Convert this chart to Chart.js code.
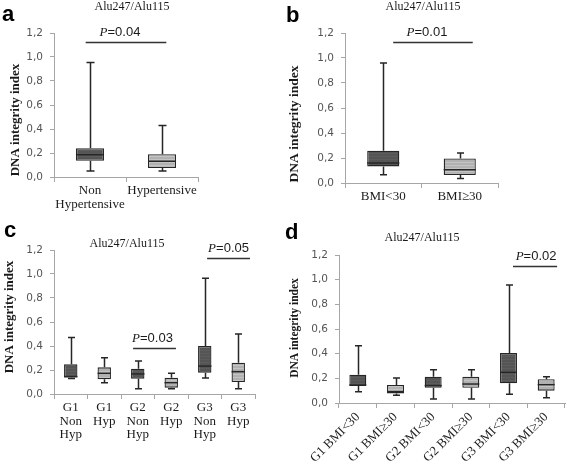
<!DOCTYPE html>
<html>
<head>
<meta charset="utf-8">
<script src="https://cdn.jsdelivr.net/npm/chart.js@4.4.0/dist/chart.umd.min.js"></script>
<style>
    body { margin: 0; background: #fff; width: 567px; height: 465px; position: relative; overflow: hidden; }
    .panel { position: absolute; }
    .tag { position: absolute; font: bold 22px "Liberation Sans", Arial, sans-serif; line-height: 22px; color: #000; }
</style>
</head>
<body>
<div class="panel" style="left:0;top:0;width:280px;height:215px"><canvas id="chartA"></canvas></div>
<div class="panel" style="left:280px;top:0;width:287px;height:215px"><canvas id="chartB"></canvas></div>
<div class="panel" style="left:0;top:215px;width:280px;height:250px"><canvas id="chartC"></canvas></div>
<div class="panel" style="left:280px;top:215px;width:287px;height:250px"><canvas id="chartD"></canvas></div>
<div class="tag" style="left:2px;top:3px">a</div>
<div class="tag" style="left:286px;top:4px">b</div>
<div class="tag" style="left:4px;top:219px">c</div>
<div class="tag" style="left:285px;top:221px">d</div>
<script>
// a: Non hypertensive vs hypertensive
const aLabels = [["Non", "Hypertensive"], "Hypertensive"];
const aMin = [0.05, 0.05];
const aQ1 = [0.136, 0.075];
const aMed = [0.186, 0.131];
const aQ3 = [0.239, 0.189];
const aMax = [0.955, 0.43];

// b: BMI
const bLabels = ["BMI<30", "BMI≥30"];
const bMin = [0.066, 0.037];
const bQ1 = [0.133, 0.064];
const bMed = [0.16, 0.106];
const bQ3 = [0.258, 0.197];
const bMax = [0.96, 0.24];

// c: grade x hypertension
const cLabels = [["G1", "Non", "Hyp"], ["G1", "Hyp"], ["G2", "Non", "Hyp"], ["G2", "Hyp"], ["G3", "Non", "Hyp"], ["G3", "Hyp"]];
const cMin = [0.13, 0.094, 0.044, 0.044, 0.133, 0.044];
const cQ1 = [0.137, 0.122, 0.128, 0.053, 0.178, 0.1];
const cMed = [0.145, 0.172, 0.167, 0.094, 0.233, 0.186];
const cQ3 = [0.247, 0.222, 0.211, 0.136, 0.4, 0.261];
const cMax = [0.47, 0.303, 0.275, 0.172, 0.964, 0.5];

// d: grade x BMI
const dLabels = ["G1 BMI<30", "G1 BMI≥30", "G2 BMI<30", "G2 BMI≥30", "G3 BMI<30", "G3 BMI≥30"];
const dMin = [0.092, 0.062, 0.032, 0.032, 0.07, 0.043];
const dQ1 = [0.138, 0.078, 0.124, 0.124, 0.16, 0.1];
const dMed = [0.146, 0.092, 0.141, 0.154, 0.249, 0.149];
const dQ3 = [0.23, 0.146, 0.213, 0.213, 0.405, 0.192];
const dMax = [0.465, 0.203, 0.27, 0.27, 0.957, 0.213];

const yTicks = [0, 0.2, 0.4, 0.6, 0.8, 1.0, 1.2];

const INK = "#262626";
const AXIS = "#a6a6a6";
const SERIF = '"Liberation Serif", "Times New Roman", serif';
const SANS = '"Liberation Sans", Arial, sans-serif';

// light boxes have a faint horizontal stripe like the Excel fill
function stripes(base, line) {
    const c = document.createElement("canvas");
    c.width = 4;
    c.height = 3;
    const g = c.getContext("2d");
    g.fillStyle = base;
    g.fillRect(0, 0, 4, 3);
    g.fillStyle = line;
    g.fillRect(0, 0, 4, 1);
    return g.createPattern(c, "repeat");
}
const DARK = stripes("#555555", "#5d5d5d");
const LIGHT = stripes("#b1b1b1", "#c4c4c4");

// whiskers, medians and the extra texts (title, y label, P values)
function boxExtras(cfg) {
    return {
        id: "boxExtras",
        beforeDatasetsDraw(chart) {
            const { ctx } = chart;
            const x = chart.scales.x, y = chart.scales.y;
            const st = chart.data.datasets[0].stats;
            ctx.save();
            ctx.strokeStyle = INK;
            ctx.lineWidth = 1.5;
            st.min.forEach((mn, i) => {
                const cx = Math.round(x.getPixelForValue(i)) + 0.5;
                const h = cfg.cap / 2;
                ctx.beginPath();
                ctx.moveTo(cx, y.getPixelForValue(st.max[i]));
                ctx.lineTo(cx, y.getPixelForValue(st.q3[i]));
                ctx.moveTo(cx, y.getPixelForValue(st.q1[i]));
                ctx.lineTo(cx, y.getPixelForValue(mn));
                ctx.moveTo(cx - h, y.getPixelForValue(st.max[i]));
                ctx.lineTo(cx + h, y.getPixelForValue(st.max[i]));
                ctx.moveTo(cx - h, y.getPixelForValue(mn));
                ctx.lineTo(cx + h, y.getPixelForValue(mn));
                ctx.stroke();
            });
            ctx.restore();
        },
        afterDatasetsDraw(chart) {
            const { ctx } = chart;
            const x = chart.scales.x, y = chart.scales.y;
            const st = chart.data.datasets[0].stats;
            const bars = chart.getDatasetMeta(0).data;
            ctx.save();
            ctx.strokeStyle = INK;
            ctx.lineWidth = 1.5;
            st.med.forEach((m, i) => {
                const b = bars[i];
                const py = y.getPixelForValue(m);
                ctx.beginPath();
                ctx.moveTo(b.x - b.width / 2, py);
                ctx.lineTo(b.x + b.width / 2, py);
                ctx.stroke();
            });

            // panel title
            ctx.fillStyle = "#1a1a1a";
            ctx.font = "12px " + SERIF;
            ctx.textAlign = "center";
            ctx.textBaseline = "middle";
            ctx.fillText("Alu247/Alu115", cfg.title[0], cfg.title[1]);

            // y axis title
            ctx.save();
            ctx.translate(cfg.yTitle[0], cfg.yTitle[1]);
            ctx.rotate(-Math.PI / 2);
            ctx.font = "bold " + cfg.yTitle[2] + "px " + SERIF;
            ctx.fillText("DNA integrity index", 0, 0);
            ctx.restore();

            // P value brackets
            cfg.pvals.forEach((p) => {
                const x0 = x.getPixelForValue(p.x0);
                const x1 = x.getPixelForValue(p.x1);
                const py = Math.round(y.getPixelForValue(p.y)) + 0.5;
                ctx.strokeStyle = "#333";
                ctx.lineWidth = 1.5;
                ctx.beginPath();
                ctx.moveTo(x0, py);
                ctx.lineTo(x1, py);
                ctx.stroke();

                ctx.font = "italic 13px " + SERIF;
                const wP = ctx.measureText("P").width;
                ctx.font = "13px " + SANS;
                const wV = ctx.measureText("=" + p.text).width;
                let tx = (x0 + x1) / 2 + p.dx - (wP + wV) / 2;
                ctx.textAlign = "left";
                ctx.textBaseline = "alphabetic";
                ctx.fillStyle = "#1a1a1a";
                ctx.font = "italic 13px " + SERIF;
                ctx.fillText("P", tx, py - 7);
                ctx.font = "13px " + SANS;
                ctx.fillText("=" + p.text, tx + wP, py - 7);
            });
            ctx.restore();
        },
    };
}

function makeBoxChart(id, labels, min, q1, med, q3, max, cfg) {
    const ctx = document.getElementById(id).getContext("2d");
    return new Chart(ctx, {
        type: "bar",
        data: {
            labels: labels,
            datasets: [
                {
                    data: q1.map((v, i) => [v, q3[i]]),
                    stats: { min: min, q1: q1, med: med, q3: q3, max: max },
                    backgroundColor: cfg.fills,
                    borderColor: INK,
                    borderWidth: 1.3,
                    borderSkipped: false,
                    barPercentage: cfg.barPct,
                    categoryPercentage: 1,
                },
            ],
        },
        options: {
            responsive: true,
            maintainAspectRatio: false,
            animation: false,
            events: [],
            layout: { padding: { top: cfg.top, right: cfg.right, left: 0, bottom: 0 } },
            plugins: {
                legend: { display: false },
                title: { display: false },
                tooltip: { enabled: false },
            },
            scales: {
                x: {
                    type: "category",
                    afterFit: (s) => { s.height = cfg.bottom; },
                    grid: { display: true, drawOnChartArea: false, drawTicks: true, tickLength: 5, color: AXIS, offset: true },
                    border: { color: AXIS, width: 1 },
                    ticks: {
                        color: "#1a1a1a",
                        font: { family: SERIF, size: 13, lineHeight: cfg.lineH },
                        padding: 2,
                        autoSkip: false,
                        maxRotation: cfg.rot,
                        minRotation: cfg.rot,
                    },
                },
                y: {
                    min: 0,
                    max: 1.2,
                    afterFit: (s) => { s.width = cfg.left; },
                    afterBuildTicks: (s) => { s.ticks = yTicks.map((v) => ({ value: v })); },
                    grid: { drawOnChartArea: false, drawTicks: true, tickLength: 4, color: AXIS },
                    border: { color: AXIS, width: 1 },
                    ticks: {
                        color: "#555555",
                        font: { family: '"DejaVu Sans", Verdana, sans-serif', size: 10.5 },
                        padding: 7,
                        callback: (v) => v.toFixed(1).replace(".", ","),
                    },
                },
            },
        },
        plugins: [boxExtras(cfg)],
    });
}

makeBoxChart("chartA", aLabels, aMin, aQ1, aMed, aQ3, aMax, {
    fills: [DARK, LIGHT],
    barPct: 0.39, cap: 8, rot: 0, lineH: 1.08,
    left: 54, top: 33, right: 82, bottom: 38,
    title: [132, 7], yTitle: [16, 120, 13],
    pvals: [{ x0: -0.06, x1: 1.06, y: 1.125, text: "0.04", dx: -6 }],
});

makeBoxChart("chartB", bLabels, bMin, bQ1, bMed, bQ3, bMax, {
    fills: [DARK, LIGHT],
    barPct: 0.42, cap: 7, rot: 0, lineH: 1.08,
    left: 65, top: 33, right: 69, bottom: 32,
    title: [143, 7], yTitle: [15, 124, 13.5],
    pvals: [{ x0: 0.13, x1: 1.17, y: 1.13, text: "0.01", dx: -6 }],
});

makeBoxChart("chartC", cLabels, cMin, cQ1, cMed, cQ3, cMax, {
    fills: [DARK, LIGHT, DARK, LIGHT, DARK, LIGHT],
    barPct: 0.4, cap: 7, rot: 0, lineH: 1.04,
    left: 54, top: 35, right: 25, bottom: 71,
    title: [127, 29], yTitle: [10, 102, 13],
    pvals: [
        { x0: 1.86, x1: 3.14, y: 0.383, text: "0.03", dx: -2 },
        { x0: 4.07, x1: 5.35, y: 1.133, text: "0.05", dx: 0 },
    ],
});

makeBoxChart("chartD", dLabels, dMin, dQ1, dMed, dQ3, dMax, {
    fills: [DARK, LIGHT, DARK, LIGHT, DARK, LIGHT],
    barPct: 0.45, cap: 7, rot: 45, lineH: 1.1,
    left: 59, top: 40, right: 2, bottom: 62,
    title: [142, 23], yTitle: [15, 113, 11.5],
    pvals: [{ x0: 4.12, x1: 5.29, y: 1.113, text: "0.02", dx: 1 }],
});
</script>
</body>
</html>
